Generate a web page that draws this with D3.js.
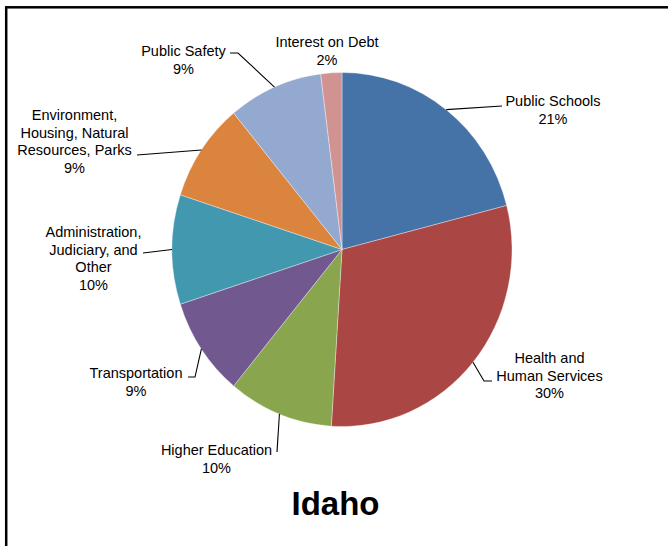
<!DOCTYPE html>
<html>
<head>
<meta charset="utf-8">
<script src="https://cdn.jsdelivr.net/npm/d3@7"></script>
<style>
  html, body { margin: 0; padding: 0; background: #fff; }
  svg { display: block; }
  text { font-family: "Liberation Sans", Arial, sans-serif; fill: #000; }
</style>
</head>
<body>
<script>
// Idaho general fund spending shares (percent), clockwise from 12 o'clock
const categories = [
  "Public Schools",
  "Health and Human Services",
  "Higher Education",
  "Transportation",
  "Administration, Judiciary, and Other",
  "Environment, Housing, Natural Resources, Parks",
  "Public Safety",
  "Interest on Debt"
];
const shares = [21, 30, 10, 9, 10, 9, 9, 2];
const sliceColors = ["#4572A7", "#AA4643", "#89A54E", "#71588F", "#4198AF", "#DB843D", "#93A9CF", "#D19392"];

// Label lines as they wrap on the chart
const labelLines = [
  ["Public Schools"],
  ["Health and", "Human Services"],
  ["Higher Education"],
  ["Transportation"],
  ["Administration,", "Judiciary, and", "Other"],
  ["Environment,", "Housing, Natural", "Resources, Parks"],
  ["Public Safety"],
  ["Interest on Debt"]
];
const title = "Idaho";

// Label placement: text centre x, first baseline, leader bend points (after the slice edge)
const labelLayout = [
  { x: 553,   y: 106, leader: [[502, 106]] },
  { x: 549.5, y: 363, leader: [[484, 381], [492, 381]] },
  { x: 216.5, y: 455, leader: [[277, 452]] },
  { x: 136,   y: 378, leader: [[195, 377], [188, 377]] },
  { x: 93.5,  y: 237, leader: [[143, 253]] },
  { x: 74.5,  y: 120, leader: [[137, 155]] },
  { x: 183.5, y: 56,  leader: [[238, 53], [230, 53]] },
  { x: 327,   y: 47,  leader: [] }
];

const W = 668, H = 546;
const cx = 342, cy = 249.5, rx = 170, ry = 177;
const lineGap = 17.5;

const svg = d3.select("body").append("svg")
  .attr("width", W).attr("height", H);

// chart frame (runs past the right and bottom edges)
svg.append("rect")
  .attr("x", 6.2).attr("y", 7.3)
  .attr("width", 720).attr("height", 600)
  .attr("fill", "none")
  .attr("stroke", "#000")
  .attr("stroke-width", 2.5);

const pie = d3.pie().sort(null).value(d => d)(shares);
const arc = d3.arc().innerRadius(0).outerRadius(rx);

const g = svg.append("g")
  .attr("transform", `translate(${cx},${cy}) scale(1,${ry / rx})`);

g.selectAll("path.slice")
  .data(pie)
  .join("path")
  .attr("class", "slice")
  .attr("d", arc)
  .attr("fill", (d, i) => sliceColors[i])
  .attr("stroke", "#ffffff")
  .attr("stroke-opacity", 0.6)
  .attr("stroke-width", 0.6)
  .attr("vector-effect", "non-scaling-stroke");

// leader lines from each slice's outer edge at its mid angle
const edgePoint = d => {
  const a = (d.startAngle + d.endAngle) / 2;
  return [cx + rx * Math.sin(a), cy - ry * Math.cos(a)];
};

const line = d3.line();
svg.selectAll("path.leader")
  .data(pie.filter((d, i) => labelLayout[i].leader.length))
  .join("path")
  .attr("class", "leader")
  .attr("d", d => line([edgePoint(d), ...labelLayout[d.index].leader]))
  .attr("fill", "none")
  .attr("stroke", "#000")
  .attr("stroke-width", 1.1);

// category labels with percentage below
const labels = svg.selectAll("text.label")
  .data(pie)
  .join("text")
  .attr("class", "label")
  .attr("text-anchor", "middle")
  .style("font-size", "14.5px");

labels.each(function (d, i) {
  const t = d3.select(this);
  const lines = labelLines[i].concat([d3.format("d")(shares[i]) + "%"]);
  lines.forEach((s, k) => {
    t.append("tspan")
      .attr("x", labelLayout[i].x)
      .attr("y", labelLayout[i].y + k * lineGap)
      .text(s);
  });
});

svg.append("text")
  .attr("x", 335.5).attr("y", 515)
  .attr("text-anchor", "middle")
  .style("font-size", "33px")
  .style("font-weight", "bold")
  .text(title);
</script>
</body>
</html>
